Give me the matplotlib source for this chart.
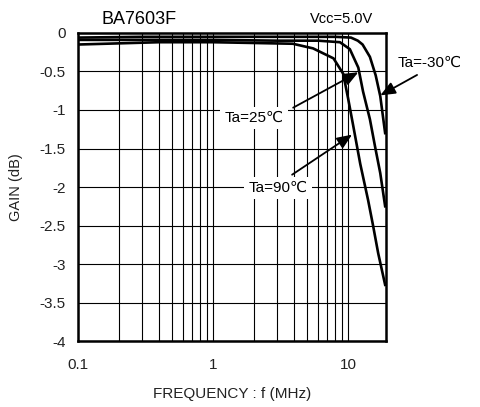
import numpy as np
import matplotlib
matplotlib.use("Agg")
import matplotlib.pyplot as plt
from matplotlib.ticker import LogLocator, FixedLocator, NullFormatter

plt.rcParams["font.family"] = ["Liberation Sans", "DejaVu Sans"]

# frequency response (f in MHz, gain in dB)
f_m30 = [0.1, 0.3, 1, 3, 8, 10.5, 11.8, 12.8, 14.5, 16, 17.3, 18.8]
g_m30 = [-0.06, -0.05, -0.05, -0.05, -0.05, -0.06, -0.1, -0.15, -0.31, -0.55, -0.82, -1.3]

f_25 = [0.1, 0.3, 1, 3, 6, 8.7, 10.3, 11.9, 12.9, 14.5, 15.85, 17.3, 18.8]
g_25 = [-0.09, -0.09, -0.09, -0.1, -0.1, -0.12, -0.21, -0.45, -0.76, -1.12, -1.48, -1.82, -2.25]

f_90 = [0.1, 0.4, 1, 2, 3.9, 5.5, 7.8, 9.2, 10, 10.9, 12.3, 14.06, 15.3, 16.7, 18.8]
g_90 = [-0.15, -0.12, -0.12, -0.13, -0.14, -0.2, -0.33, -0.53, -0.85, -1.2, -1.7, -2.17, -2.5, -2.86, -3.27]

y_ticks = [0, -0.5, -1, -1.5, -2, -2.5, -3, -3.5, -4]
y_labels = ["0", "-0.5", "-1", "-1.5", "-2", "-2.5", "-3", "-3.5", "-4"]
x_ticks = [0.1, 1, 10]
x_labels = ["0.1", "1", "10"]

fig = plt.figure(figsize=(4.81, 4.07), dpi=100)
ax = fig.add_axes([0.162, 0.162, 0.640, 0.757])

for f, g in [(f_m30, g_m30), (f_25, g_25), (f_90, g_90)]:
    ax.plot(f, g, color="black", linewidth=1.9, zorder=3, solid_joinstyle="round")

ax.set_xscale("log")
ax.set_xlim(0.1, 19)
ax.set_ylim(-4, 0)

ax.xaxis.set_major_locator(FixedLocator(x_ticks))
ax.set_xticklabels(x_labels)
ax.xaxis.set_minor_locator(LogLocator(base=10, subs=np.arange(2, 10)))
ax.xaxis.set_minor_formatter(NullFormatter())
ax.set_yticks(y_ticks)
ax.set_yticklabels(y_labels)

ax.grid(True, which="both", axis="x", color="black", linewidth=0.8)
ax.grid(True, which="major", axis="y", color="black", linewidth=0.8)
ax.tick_params(which="both", length=0, labelsize=11, colors="#222222")
ax.tick_params(axis="y", pad=9)
ax.tick_params(axis="x", pad=12)

for side in ["left", "bottom", "right", "top"]:
    ax.spines[side].set_linewidth(1.8)
    ax.spines[side].set_color("black")

ax.set_xlabel("FREQUENCY : f (MHz)", fontsize=11, labelpad=11, color="#222222")
ax.set_ylabel("GAIN (dB)", fontsize=10.5, labelpad=12, color="#222222")

fig.text(139 / 481, 1 - 19 / 407, "BA7603F", fontsize=13, ha="center", va="center")
fig.text(342 / 481, 1 - 19 / 407, "Vcc=5.0V", fontsize=10.5, ha="center", va="center")

# curve labels + arrows
arrow = dict(arrowstyle="-|>,head_length=0.6,head_width=0.25", color="black",
             lw=1.3, mutation_scale=15, shrinkA=0, shrinkB=0)

ax.annotate("", xy=(17.3, -0.81), xytext=(32.4, -0.545), arrowprops=arrow,
            annotation_clip=False, zorder=5)
ax.text(40.5, -0.39, "Ta=-30℃", fontsize=11, ha="center", va="center", clip_on=False)

ax.annotate("", xy=(11.9, -0.51), xytext=(3.92, -0.97), arrowprops=arrow, zorder=5)
ax.text(2.01, -1.10, "Ta=25℃", fontsize=11, ha="center", va="center", zorder=4,
        bbox=dict(facecolor="white", edgecolor="none", pad=3))

ax.annotate("", xy=(10.7, -1.32), xytext=(3.85, -1.84), arrowprops=arrow, zorder=5)
ax.text(3.03, -2.01, "Ta=90℃", fontsize=11, ha="center", va="center", zorder=4,
        bbox=dict(facecolor="white", edgecolor="none", pad=3))

fig.savefig("out.png", dpi=100)
